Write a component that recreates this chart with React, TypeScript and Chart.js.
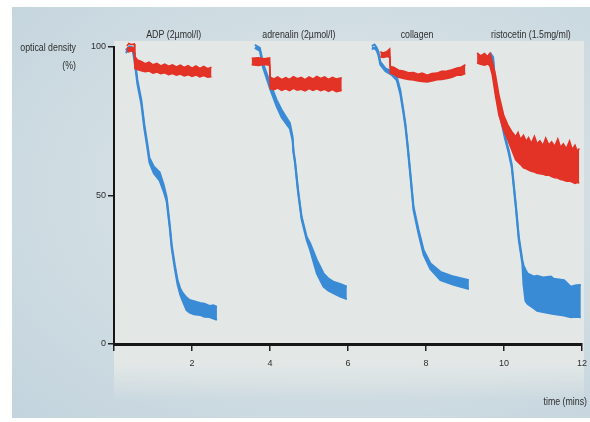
import React, { useEffect, useRef } from 'react';
import { Chart, registerables } from 'chart.js';

Chart.register(...registerables);

// ---------- data (time in minutes, optical density in %) ----------
const xTickValues = [0, 2, 4, 6, 8, 10, 12];
const yTickValues = [0, 50, 100];

const agonistLabels = ['ADP (2µmol/l)', 'adrenalin (2µmol/l)', 'collagen', 'ristocetin (1.5mg/ml)'];
const agonistLabelTimes = [1.53, 4.74, 7.77, 10.69];

// ADP
const adpBlueTime = [0.30, 0.40, 0.48, 0.53, 0.60, 0.70, 0.78, 0.84, 0.91, 1.02, 1.17, 1.27, 1.35, 1.43, 1.48, 1.56, 1.63, 1.70, 1.76, 1.86, 1.94, 2.05, 2.20, 2.32, 2.45, 2.55, 2.64];
const adpBlueHigh = [99.0, 100.2, 99.8, 96.3, 88.9, 82.2, 73.7, 68.7, 62.6, 59.8, 57.8, 53.8, 49.5, 40.1, 33.3, 26.6, 21.5, 18.6, 17.2, 15.6, 14.8, 14.4, 13.8, 13.6, 12.8, 13.0, 12.5];
const adpBlueLow = [98.0, 99.2, 98.8, 95.0, 87.5, 80.8, 72.3, 67.3, 61.0, 57.5, 55.0, 51.5, 48.0, 39.0, 32.2, 25.3, 20.0, 16.5, 14.5, 11.4, 10.6, 10.0, 9.8, 9.2, 9.1, 8.6, 8.1];

const adpRedTime = [0.33, 0.38, 0.45, 0.52, 0.535, 0.6, 0.7, 0.8, 0.9, 1.0, 1.1, 1.2, 1.3, 1.4, 1.5, 1.6, 1.7, 1.8, 1.9, 2.0, 2.1, 2.2, 2.3, 2.4, 2.5];
const adpRedHigh = [100.3, 101.2, 100.8, 101.0, 96.8, 95.6, 95.1, 94.4, 94.9, 94.0, 94.5, 93.6, 94.2, 93.5, 94.0, 93.3, 93.9, 93.1, 93.7, 92.9, 93.6, 92.8, 93.5, 92.7, 93.2];
const adpRedLow = [98.8, 98.4, 98.7, 98.2, 92.8, 92.4, 92.0, 91.7, 91.9, 91.2, 91.6, 91.0, 91.3, 90.7, 91.1, 90.5, 90.9, 90.3, 90.7, 90.1, 90.6, 89.9, 90.4, 89.8, 90.0];

// adrenalin
const adrBlueTime = [3.61, 3.74, 3.82, 4.00, 4.17, 4.30, 4.51, 4.58, 4.60, 4.64, 4.72, 4.81, 4.94, 5.03, 5.20, 5.37, 5.50, 5.62, 5.80, 5.97];
const adrBlueHigh = [100.7, 99.7, 94.6, 87.9, 82.2, 78.8, 74.4, 69.7, 65.3, 61.9, 51.9, 42.9, 36.1, 33.9, 28.3, 23.8, 22.0, 21.0, 20.2, 19.3];
const adrBlueLow = [99.7, 98.7, 93.2, 86.0, 80.0, 76.3, 72.5, 68.5, 64.5, 61.0, 51.0, 42.0, 35.0, 31.6, 23.8, 19.3, 18.0, 17.1, 16.0, 15.1];

const adrRedTime = [3.53, 3.70, 3.85, 3.99, 4.005, 4.1, 4.2, 4.3, 4.4, 4.5, 4.6, 4.7, 4.8, 4.9, 5.0, 5.1, 5.2, 5.3, 5.4, 5.5, 5.6, 5.7, 5.84];
const adrRedHigh = [96.2, 96.4, 96.0, 96.3, 89.8, 89.2, 89.9, 89.0, 89.7, 89.1, 90.0, 89.3, 89.8, 89.0, 89.9, 89.2, 90.1, 89.4, 89.9, 89.1, 89.8, 89.2, 89.6];
const adrRedLow = [94.0, 93.8, 94.1, 93.9, 86.0, 85.6, 86.2, 85.4, 85.9, 85.3, 86.1, 85.5, 85.8, 85.2, 86.0, 85.4, 85.9, 85.3, 85.8, 85.1, 85.7, 85.0, 85.4];

// collagen
const colBlueTime = [6.61, 6.68, 6.74, 6.78, 6.83, 6.96, 7.13, 7.25, 7.34, 7.42, 7.47, 7.53, 7.60, 7.68, 7.81, 7.94, 8.11, 8.37, 8.71, 9.10];
const colBlueHigh = [100.3, 100.8, 99.7, 98.4, 95.0, 92.8, 91.7, 90.0, 85.5, 78.8, 74.4, 67.0, 57.5, 46.2, 38.4, 31.6, 27.2, 24.3, 22.7, 21.5];
const colBlueLow = [99.3, 99.6, 98.7, 97.2, 94.0, 91.8, 90.5, 88.8, 84.3, 77.8, 73.4, 66.0, 56.5, 45.0, 37.0, 30.0, 25.3, 21.5, 19.9, 18.5];

const colRedTime = [6.83, 6.9, 7.0, 7.07, 7.085, 7.17, 7.3, 7.42, 7.55, 7.68, 7.8, 7.9, 8.03, 8.15, 8.28, 8.4, 8.54, 8.67, 8.8, 8.9, 9.01];
const colRedHigh = [98.4, 98.0, 98.5, 99.3, 93.4, 93.2, 92.2, 91.9, 91.3, 91.4, 90.8, 91.2, 90.5, 91.1, 91.2, 91.8, 91.9, 92.3, 92.9, 93.2, 94.0];
const colRedLow = [96.7, 96.5, 96.8, 96.6, 91.1, 90.8, 89.8, 89.4, 89.1, 88.9, 88.6, 88.4, 88.2, 88.6, 89.0, 89.1, 89.4, 89.8, 90.6, 90.5, 91.1];

// ristocetin
const risBlueTime = [9.60, 9.66, 9.72, 9.79, 9.90, 10.02, 10.12, 10.20, 10.30, 10.38, 10.47, 10.50, 10.55, 10.60, 10.77, 10.85, 11.0, 11.20, 11.27, 11.54, 11.71, 11.85, 11.97];
const risBlueHigh = [97.3, 97.8, 96.6, 85.5, 77.8, 70.4, 65.3, 60.3, 47.4, 36.1, 28.3, 26.5, 25.0, 23.8, 22.7, 23.0, 22.4, 22.7, 22.0, 21.5, 19.3, 19.8, 19.9];
const risBlueLow = [96.6, 96.9, 95.6, 84.5, 76.8, 69.4, 64.3, 59.3, 46.4, 35.0, 27.0, 20.0, 14.5, 13.5, 12.0, 11.2, 10.8, 10.3, 10.1, 9.6, 9.0, 9.2, 9.0];

const risRedTime = [9.31, 9.40, 9.50, 9.58, 9.64, 9.70, 9.78, 9.87, 9.99, 10.1, 10.2, 10.3, 10.36, 10.42, 10.5, 10.57, 10.63, 10.7, 10.78, 10.85, 10.92, 11.0, 11.07, 11.15, 11.22, 11.3, 11.38, 11.45, 11.52, 11.6, 11.68, 11.75, 11.82, 11.88, 11.93];
const risRedHigh = [98.0, 97.0, 97.8, 96.8, 97.9, 95.0, 90.6, 83.8, 77.1, 73.7, 71.5, 69.8, 71.2, 68.9, 70.3, 68.2, 69.5, 67.6, 69.9, 67.3, 68.4, 66.8, 69.3, 67.0, 68.1, 66.5, 69.0, 66.2, 67.4, 65.8, 68.3, 65.4, 66.9, 64.9, 65.8];
const risRedLow = [94.6, 94.2, 93.9, 94.3, 93.6, 90.6, 83.8, 77.1, 72.1, 68.7, 65.3, 62.0, 61.2, 60.5, 59.3, 59.0, 58.6, 58.2, 57.9, 57.5, 57.3, 57.2, 56.8, 56.9, 56.4, 56.0, 55.9, 55.4, 55.2, 54.8, 54.9, 54.5, 54.1, 54.4, 54.2];

// ---------- styling ----------
const BLUE = 'rgb(58,139,214)';
const RED = 'rgb(227,50,38)';
const FONT = "'Liberation Sans', Arial, sans-serif";
const TEXT = '#2e2e2e';

type Trace = { time: number[]; high: number[]; low: number[]; color: string; order: number; width: number };

const traces: Trace[] = [
  { time: adpBlueTime, high: adpBlueHigh, low: adpBlueLow, color: BLUE, order: 2, width: 2 },
  { time: adrBlueTime, high: adrBlueHigh, low: adrBlueLow, color: BLUE, order: 2, width: 2 },
  { time: colBlueTime, high: colBlueHigh, low: colBlueLow, color: BLUE, order: 2, width: 2 },
  { time: risBlueTime, high: risBlueHigh, low: risBlueLow, color: BLUE, order: 2, width: 2 },
  { time: adpRedTime, high: adpRedHigh, low: adpRedLow, color: RED, order: 1, width: 1.6 },
  { time: adrRedTime, high: adrRedHigh, low: adrRedLow, color: RED, order: 1, width: 1.6 },
  { time: colRedTime, high: colRedHigh, low: colRedLow, color: RED, order: 1, width: 1.6 },
  { time: risRedTime, high: risRedHigh, low: risRedLow, color: RED, order: 1, width: 1.6 },
];

function buildDatasets() {
  const ds: any[] = [];
  traces.forEach((t) => {
    const upperIndex = ds.length;
    const common = {
      borderColor: t.color,
      backgroundColor: t.color,
      borderWidth: t.width,
      pointRadius: 0,
      tension: 0,
      clip: false,
      order: t.order,
    };
    ds.push({ ...common, data: t.time.map((x, i) => ({ x, y: t.high[i] })), fill: false });
    ds.push({ ...common, data: t.time.map((x, i) => ({ x, y: t.low[i] })), fill: upperIndex });
  });
  return ds;
}

const paperPlugin = {
  id: 'paper',
  beforeDraw(chart: any) {
    const { ctx, chartArea } = chart;
    ctx.save();
    ctx.fillStyle = '#e3e8e6';
    const top = chartArea.top - 6;
    const bottom = chartArea.bottom + 18;
    ctx.fillRect(chartArea.left, top, chartArea.right + 2 - chartArea.left, bottom - top);
    const g = ctx.createLinearGradient(0, bottom, 0, bottom + 40);
    g.addColorStop(0, 'rgba(227,232,230,1)');
    g.addColorStop(1, 'rgba(227,232,230,0)');
    ctx.fillStyle = g;
    ctx.fillRect(chartArea.left, bottom, chartArea.right + 2 - chartArea.left, 40);
    ctx.restore();
  },
};

function condensedText(ctx: any, text: string, x: number, y: number, align: 'left' | 'right' | 'center', size: number, squeeze: number) {
  ctx.save();
  ctx.font = `${size}px ${FONT}`;
  ctx.textBaseline = 'middle';
  ctx.textAlign = align;
  ctx.translate(x, y);
  ctx.scale(squeeze, 1);
  ctx.fillText(text, 0, 0);
  ctx.restore();
}

const textPlugin = {
  id: 'texts',
  afterDraw(chart: any) {
    const { ctx, chartArea, scales } = chart;
    ctx.save();
    ctx.fillStyle = TEXT;
    condensedText(ctx, 'optical density', 76, 48, 'right', 11, 0.8);
    condensedText(ctx, '(%)', 76, 66, 'right', 11, 0.8);
    condensedText(ctx, 'time (mins)', 587, 402, 'right', 11, 0.8);
    agonistLabels.forEach((label, i) => {
      condensedText(ctx, label, scales.x.getPixelForValue(agonistLabelTimes[i]), chartArea.top - 12, 'center', 11, 0.8);
    });
    ctx.restore();
  },
};

export default function App() {
  const ref = useRef<HTMLCanvasElement>(null);
  useEffect(() => {
    if (!ref.current) return;
    const chart = new Chart(ref.current, {
      type: 'line',
      data: { datasets: buildDatasets() },
      options: {
        animation: false,
        responsive: false,
        devicePixelRatio: 1,
        layout: { padding: { top: 47, right: 8, left: 0, bottom: 0 } },
        plugins: { legend: { display: false }, tooltip: { enabled: false } },
        scales: {
          x: {
            type: 'linear',
            min: 0,
            max: 12,
            afterBuildTicks: (s: any) => {
              s.ticks = xTickValues.map((v) => ({ value: v }));
            },
            ticks: {
              callback: (v: any) => (v === 0 ? '' : String(v)),
              color: TEXT,
              font: { family: FONT, size: 9 },
              padding: 7,
              maxRotation: 0,
              autoSkip: false,
            },
            grid: { display: true, drawOnChartArea: false, drawTicks: true, tickLength: 7, color: '#222', lineWidth: 1.5 },
            border: { display: true, color: '#161616', width: 3 },
            afterFit: (s: any) => {
              s.height = 78;
              s.paddingLeft = 0;
              s.paddingRight = 0;
            },
          },
          y: {
            min: 0,
            max: 100,
            afterBuildTicks: (s: any) => {
              s.ticks = yTickValues.map((v) => ({ value: v }));
            },
            ticks: {
              color: TEXT,
              font: { family: FONT, size: 9 },
              padding: 2,
            },
            grid: { display: true, drawOnChartArea: false, drawTicks: true, tickLength: 6, color: '#222', lineWidth: 1.5 },
            border: { display: true, color: '#161616', width: 2 },
            afterFit: (s: any) => {
              s.width = 114;
              s.paddingTop = 0;
              s.paddingBottom = 0;
            },
          },
        },
      },
      plugins: [paperPlugin, textPlugin],
    } as any);
    return () => chart.destroy();
  }, []);

  return (
    <div style={{ position: 'fixed', left: 0, top: 0, width: 590, height: 422, background: '#ffffff' }}>
      <div
        style={{
          position: 'absolute',
          left: 12,
          top: 7,
          width: 578,
          height: 411,
          background: 'radial-gradient(ellipse at 58% 45%, #dde5e5 0%, #d2dee3 50%, #c3d4de 100%)',
        }}
      />
      <canvas ref={ref} width={590} height={422} style={{ position: 'absolute', left: 0, top: 0 }} />
    </div>
  );
}
